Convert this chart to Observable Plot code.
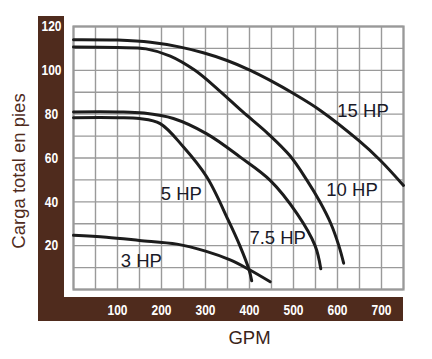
<!DOCTYPE html>
<html><head><meta charset="utf-8">
<script src="https://cdn.jsdelivr.net/npm/d3@7"></script>
<script src="https://cdn.jsdelivr.net/npm/@observablehq/plot@0.6"></script>
<style>
body{margin:0;background:#fff;}
#wrap{position:relative;width:432px;height:359px;overflow:hidden;}
.brown{position:absolute;background:#4f2b1d;}
#chart{position:absolute;left:0;top:0;}
</style></head><body>
<div id="wrap">
<div class="brown" style="left:38px;top:16px;width:26px;height:305px"></div>
<div class="brown" style="left:38px;top:297px;width:365px;height:24px"></div>
<div id="chart"></div>
</div>
<script>
// Pump curves (GPM vs total head in feet)
const hp15Gpm  = [0, 100, 175, 243, 295, 349, 402, 447, 500, 561, 648, 697, 750];
const hp15Head = [114, 113.8, 112.8, 110.6, 108, 104.5, 100, 95.4, 89.4, 81.7, 68, 59, 47.5];
const hp10Gpm  = [0, 100, 165, 220, 276, 330, 385, 440, 492, 530, 560, 585, 603, 614];
const hp10Head = [110.6, 110.4, 109.8, 106.5, 100, 91, 81, 71.5, 61, 50, 40, 30, 20, 12];
const hp75Gpm  = [0, 100, 160, 227, 303, 379, 447, 508, 549, 562];
const hp75Head = [81, 81, 80.5, 78, 71, 60.4, 49.8, 34.6, 20, 9.5];
const hp5Gpm   = [0, 100, 150, 197, 250, 303, 352, 378, 399, 405];
const hp5Head  = [78.4, 78.4, 78, 75.7, 65, 51.3, 31.5, 20, 9, 4];
const hp3Gpm   = [0, 75, 150, 235, 300, 356, 400, 447];
const hp3Head  = [24.7, 23.8, 22.4, 20.7, 17.5, 13.5, 9, 3.5];

const seriesNames = ["15 HP", "10 HP", "7.5 HP", "5 HP", "3 HP"];
const seriesGpm = [hp15Gpm, hp10Gpm, hp75Gpm, hp5Gpm, hp3Gpm];
const seriesHead = [hp15Head, hp10Head, hp75Head, hp5Head, hp3Head];

const labelText = ["15 HP", "10 HP", "7.5 HP", "5 HP", "3 HP"];
const labelGpm  = [658, 633, 464, 245, 154];
const labelHead = [81.3, 45.2, 23.5, 43.4, 12.8];

const xTicks = [100, 200, 300, 400, 500, 600, 700];
const yTicks = [20, 40, 60, 80, 100, 120];
const xGrid = d3.range(0, 751, 50);
const yGrid = d3.range(0, 121, 10);

const yTitle = "Carga total en pies";
const xTitle = "GPM";

const rows = [];
seriesNames.forEach((name, i) => {
  seriesGpm[i].forEach((g, j) => rows.push({series: name, gpm: g, head: seriesHead[i][j]}));
});
const labels = labelText.map((t, i) => ({text: t, gpm: labelGpm[i], head: labelHead[i]}));

const font = '"Liberation Sans", Arial, sans-serif';

const chart = Plot.plot({
  width: 432,
  height: 359,
  marginLeft: 73,
  marginRight: 29,
  marginTop: 26,
  marginBottom: 70,
  style: {background: "transparent", fontFamily: font},
  x: {domain: [0, 750]},
  y: {domain: [0, 120]},
  marks: [
    Plot.gridX(xGrid, {stroke: "#9a9a9a", strokeOpacity: 1, strokeWidth: 1.4}),
    Plot.gridY(yGrid, {stroke: "#9a9a9a", strokeOpacity: 1, strokeWidth: 1.4}),
    Plot.frame({stroke: "#999", strokeWidth: 2.2}),
    Plot.axisX(xTicks, {tickSize: 0, tickPadding: 0, dy: 21, lineAnchor: "middle", fill: "white", fontSize: 15, fontWeight: "bold", label: null, fontFamily: font}),
    Plot.axisY(yTicks, {tickSize: 0, tickPadding: 0, dx: -22, textAnchor: "middle", fill: "white", fontSize: 15, fontWeight: "bold", label: null, fontFamily: font}),
    Plot.line(rows, {x: "gpm", y: "head", z: "series", stroke: "#1c1c1c", strokeWidth: 3, curve: "catmull-rom"}),
    Plot.text(labels, {x: "gpm", y: "head", text: "text", fontSize: 18.5, fill: "#1a1a28", fontFamily: font, ariaLabel: "curve-label"}),
    Plot.text([yTitle], {frameAnchor: "left", textAnchor: "middle", lineAnchor: "middle", dx: -54, dy: 13, rotate: -90, fontSize: 18.5, fill: "#4f2b1d", fontFamily: font, ariaLabel: "y-title"}),
    Plot.text([xTitle], {frameAnchor: "bottom", textAnchor: "middle", lineAnchor: "middle", dx: 11, dy: 48.5, fontSize: 18.5, fill: "#3a2418", fontFamily: font, ariaLabel: "x-title"})
  ]
});
document.getElementById("chart").appendChild(chart);

// condensed look: squeeze glyphs horizontally
function squeeze(sel, f) {
  chart.querySelectorAll(sel).forEach(t => {
    const L = t.getComputedTextLength();
    t.setAttribute("textLength", (L * f).toFixed(1));
    t.setAttribute("lengthAdjust", "spacingAndGlyphs");
  });
}
squeeze('g[aria-label="curve-label"] text', 0.78);
squeeze('g[aria-label="x-axis tick label"] text', 0.8);
squeeze('g[aria-label="y-axis tick label"] text', 0.8);
squeeze('g[aria-label="x-title"] text', 0.73);
squeeze('g[aria-label="y-title"] text', 0.95);
</script>
</body></html>
